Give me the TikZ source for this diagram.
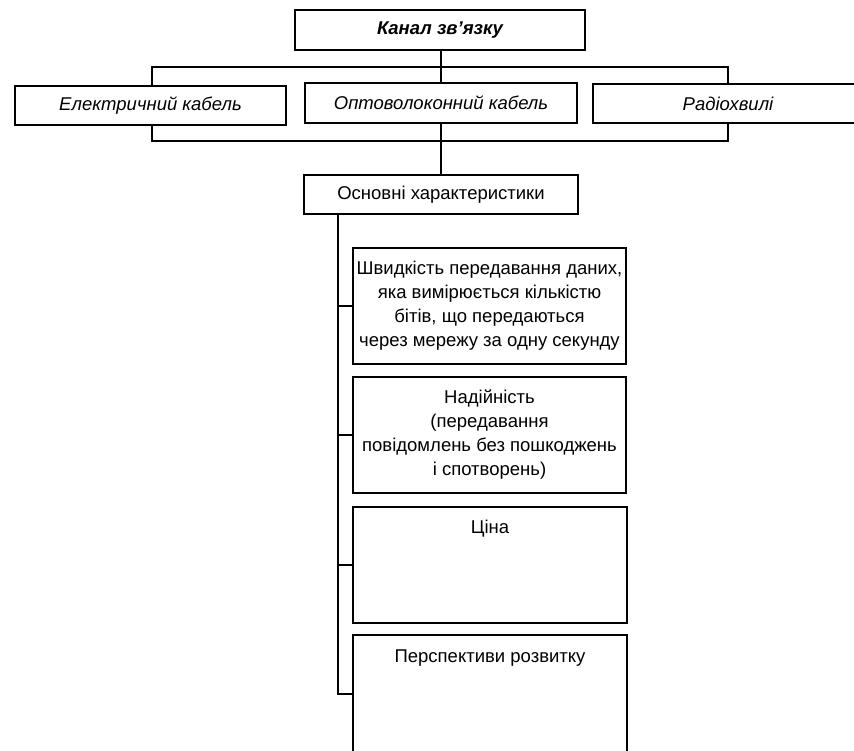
\documentclass[tikz,border=0pt]{standalone}
\usepackage{fontspec}
\setmainfont{Liberation Sans}
\begin{document}
\begin{tikzpicture}[x=1pt,y=-1pt,
  frame/.style={draw, line width=1.8pt, fill=white, rectangle, inner sep=0pt,
    font=\fontsize{18.5}{24}\selectfont, align=center},
  link/.style={line width=1.8pt},
  toplabel/.style={anchor=north, inner sep=0pt, font=\fontsize{18.5}{24}\selectfont}]
\useasboundingbox (0,0) rectangle (854,750);

% bracket that joins the three kinds of channel
\draw[link] (152,67) rectangle (728,141);

% channel and its media
\node[frame, minimum width=290, minimum height=40] (kanal) at (440,30)
  {\bfseries\itshape Канал зв'язку};
\node[frame, minimum width=271, minimum height=39] (cable) at (150.5,105.5)
  {\itshape Електричний кабель};
\node[frame, minimum width=272, minimum height=40] (fibre) at (441,103)
  {\itshape Оптоволоконний кабель};
\node[frame, minimum width=270, minimum height=39] (radio) at (728,103.5)
  {\itshape Радіохвилі};

\draw[link] (kanal.south -| fibre.north) -- (fibre.north);

% main characteristics
\node[frame, minimum width=274, minimum height=39] (osn) at (441,194.5)
  {Основні характеристики};
\draw[link] (fibre.south) -- (osn.north);

\node[frame, minimum width=273, minimum height=116] (speed) at (489.5,306)
  {Швидкість передавання даних,\\ яка вимірюється кількістю\\ бітів, що передаються\\ через мережу за одну секунду};
\node[frame, minimum width=273, minimum height=116] (rel) at (489.5,435)
  {\raisebox{-8pt}{\parbox{262pt}{\centering Надійність\\ (передавання\\ повідомлень без пошкоджень\\ і спотворень)}}};
\node[frame, minimum width=274, minimum height=116,
  label={[toplabel, yshift=-14pt]north:Ціна}] (price) at (490,565) {};
\node[frame, minimum width=274, minimum height=118,
  label={[toplabel, yshift=-15pt]north:Перспективи розвитку}] (future) at (490,694) {};

% spine with branches to each characteristic
\coordinate (spine) at (338,214);
\draw[link] (spine) |- (future.west);
\draw[link] (spine |- speed.west) -- (speed.west);
\draw[link] (spine |- rel.west) -- (rel.west);
\draw[link] (spine |- price.west) -- (price.west);
\end{tikzpicture}
\end{document}
